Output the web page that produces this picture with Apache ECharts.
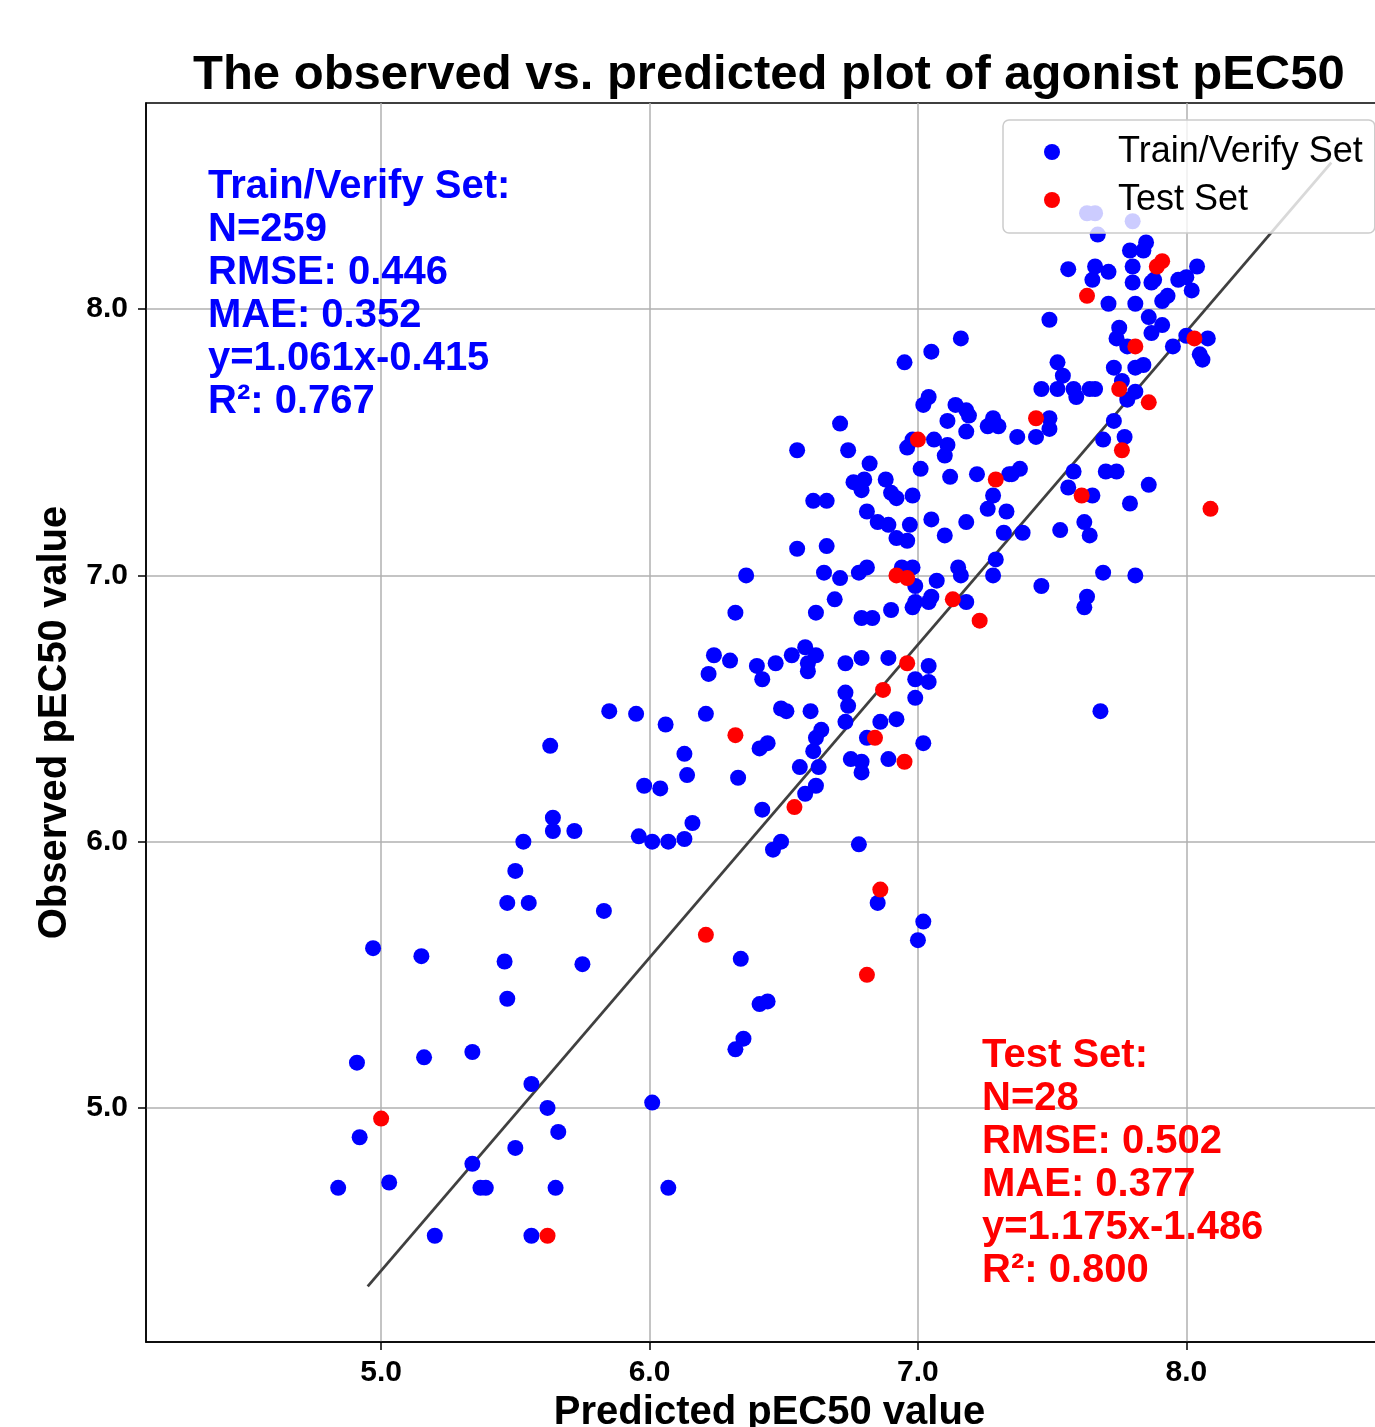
<!DOCTYPE html>
<html>
<head>
<meta charset="utf-8">
<script src="https://cdn.jsdelivr.net/npm/echarts@6/dist/echarts.min.js"></script>
<style>
html,body{margin:0;padding:0;background:#fff;}
#chart{width:1375px;height:1427px;}
</style>
</head>
<body>
<div id="chart"></div>
<script>
// ---- data (predicted, observed) ----
const trainSet = [
[5.47,5.77],[5.55,5.77],[5.83,5.74],[4.97,5.60],[5.15,5.57],[5.46,5.55],[5.75,5.54],[5.47,5.41],[4.91,5.17],[5.16,5.19],
[5.34,5.21],[5.56,5.09],[5.62,5.00],[4.92,4.89],[5.66,4.91],[5.50,4.85],[5.34,4.79],[4.84,4.70],[5.03,4.72],[5.37,4.70],
[5.39,4.70],[5.65,4.70],[5.20,4.52],[5.56,4.52],
[5.85,6.49],[5.95,6.48],[6.06,6.44],[6.21,6.48],[6.49,6.50],[6.51,6.49],[5.63,6.36],[6.44,6.37],[6.41,6.35],[6.13,6.33],
[6.14,6.25],[6.33,6.24],[6.56,6.28],[5.98,6.21],[6.04,6.20],[6.42,6.12],[5.64,6.09],[5.64,6.04],[5.72,6.04],[6.16,6.07],
[5.96,6.02],[6.01,6.00],[6.07,6.00],[6.13,6.01],[5.53,6.00],[6.49,6.00],[6.46,5.97],[5.50,5.89],
[6.78,5.99],[6.85,5.77],[7.02,5.70],[7.00,5.63],[6.34,5.56],[6.41,5.39],[6.44,5.40],[6.35,5.26],[6.32,5.22],[6.01,5.02],[6.07,4.70],
[6.36,7.00],[6.32,6.86],[6.24,6.70],[6.30,6.68],[6.22,6.63],[6.40,6.66],[6.42,6.61],[6.47,6.67],[6.53,6.70],
[6.55,7.10],[6.66,7.11],[6.65,7.01],[6.71,6.99],[6.78,7.01],[6.81,7.03],[6.94,7.03],[6.98,7.03],[6.99,6.96],[7.07,6.98],
[7.15,7.03],[7.16,7.00],[7.29,7.06],[7.28,7.00],[6.69,6.91],[6.62,6.86],[6.79,6.84],[6.83,6.84],[6.90,6.87],[6.98,6.88],
[6.99,6.90],[7.05,6.92],[7.04,6.90],[7.18,6.90],[6.58,6.73],[6.62,6.70],[6.59,6.67],[6.59,6.64],[6.73,6.67],[6.79,6.69],
[6.89,6.69],[7.04,6.66],[6.99,6.61],[7.04,6.60],[6.99,6.54],[6.73,6.56],[6.74,6.51],[6.60,6.49],[6.92,6.46],[6.86,6.45],
[6.73,6.45],[6.64,6.42],[6.62,6.39],[6.61,6.34],[6.81,6.39],[7.02,6.37],[6.75,6.31],[6.79,6.30],[6.79,6.26],[6.89,6.31],
[6.63,6.28],[6.62,6.21],[6.58,6.18],
[7.16,7.89],[7.05,7.84],[6.95,7.80],[7.04,7.67],[7.02,7.64],[7.14,7.64],[7.18,7.62],[7.19,7.60],[7.11,7.58],[7.18,7.54],
[7.28,7.59],[7.26,7.56],[7.30,7.56],[6.71,7.57],[6.96,7.48],[6.98,7.51],[7.06,7.51],[7.11,7.49],[7.10,7.45],[6.55,7.47],
[6.74,7.47],[6.82,7.42],[7.01,7.40],[7.12,7.37],[7.22,7.38],[7.34,7.38],[6.88,7.36],[6.76,7.35],[6.80,7.36],[6.79,7.32],
[6.90,7.31],[6.92,7.29],[6.98,7.30],[7.28,7.30],[6.61,7.28],[6.66,7.28],[6.81,7.24],[6.85,7.20],[6.89,7.19],[6.97,7.19],
[7.05,7.21],[7.18,7.20],[7.26,7.25],[7.33,7.24],[6.92,7.14],[6.96,7.13],[7.10,7.15],[7.32,7.16],
[7.63,8.36],[7.66,8.36],[7.80,8.33],[7.67,8.28],[7.85,8.25],[7.84,8.22],[7.79,8.22],[7.56,8.15],[7.66,8.16],[7.65,8.11],
[7.71,8.14],[7.80,8.16],[7.80,8.10],[7.88,8.11],[7.87,8.10],[7.97,8.11],[8.00,8.12],[8.02,8.07],[8.04,8.16],[7.93,8.05],
[7.91,8.03],[7.71,8.02],[7.81,8.02],[7.49,7.96],[7.86,7.97],[7.91,7.94],[7.87,7.91],[7.75,7.93],[7.74,7.89],[7.95,7.86],
[8.00,7.90],[8.08,7.89],[8.05,7.83],[8.06,7.81],[7.78,7.86],[7.52,7.80],[7.73,7.78],[7.76,7.73],[7.81,7.78],[7.84,7.79],
[7.54,7.75],[7.46,7.70],[7.52,7.70],[7.58,7.70],[7.59,7.67],[7.64,7.70],[7.66,7.70],[7.81,7.69],[7.78,7.66],[7.49,7.59],
[7.73,7.58],
[7.49,7.55],[7.37,7.52],[7.44,7.52],[7.69,7.51],[7.77,7.52],[7.35,7.38],[7.38,7.40],[7.58,7.39],[7.70,7.39],[7.74,7.39],
[7.56,7.33],[7.65,7.30],[7.86,7.34],[7.79,7.27],[7.62,7.20],[7.64,7.15],[7.53,7.17],[7.39,7.16],[7.69,7.01],[7.81,7.00],
[7.46,6.96],[7.63,6.92],[7.62,6.88],[7.68,6.49]
];
const testSet = [
[5.00,4.96],[5.62,4.52],[6.21,5.65],[6.81,5.50],[6.86,5.82],[6.32,6.40],[6.54,6.13],[6.84,6.39],[6.95,6.30],[6.87,6.57],
[6.96,6.67],[7.23,6.83],[7.13,6.91],[6.92,7.00],[6.96,6.99],[7.00,7.51],[7.29,7.36],[7.44,7.59],[7.61,7.30],[7.76,7.47],
[7.75,7.70],[7.86,7.65],[7.81,7.86],[8.03,7.89],[8.09,7.25],[7.63,8.05],[7.91,8.18],[7.89,8.16]
];
// fitted line endpoints (test-set regression y=1.175x-1.486)
const fitLine = [[4.95,4.33],[8.54,8.55]];
const xTicks = [5,6,7,8];
const yTicks = [5,6,7,8];
const titleText = 'The observed vs. predicted plot of agonist pEC50';
const trainText = ['Train/Verify Set:','N=259','RMSE: 0.446','MAE: 0.352','y=1.061x-0.415','R²: 0.767'];
const testText = ['Test Set:','N=28','RMSE: 0.502','MAE: 0.377','y=1.175x-1.486','R²: 0.800'];

const FF = '"Liberation Sans", Arial, Helvetica, sans-serif';
const chart = echarts.init(document.getElementById('chart'), null, {renderer:'canvas'});

function axisCommon(ticks, margin){
  return {
    type:'value',
    axisLine:{show:true, onZero:false, lineStyle:{color:'#000', width:1.5}},
    axisTick:{show:true, inside:false, length:8, lineStyle:{color:'#000', width:1.5}, customValues:ticks},
    axisLabel:{show:true, color:'#000', fontFamily:FF, fontWeight:'bold', fontSize:30, customValues:ticks,
      margin:margin, formatter:v=>Number(v).toFixed(1)},
    splitLine:{show:true, lineStyle:{color:'#b0b0b0', width:1.5}}
  };
}

const option = {
  backgroundColor:'#ffffff',
  animation:false,
  grid:{left:146, right:-18, top:103, bottom:85, show:true, borderColor:'#000', borderWidth:1.5,
        backgroundColor:'transparent', containLabel:false, outerBoundsMode:'none'},
  xAxis:Object.assign(axisCommon(xTicks, 16), {
    min:4.124, max:8.77,
    name:'Predicted pEC50 value', nameLocation:'middle', nameGap:50,
    nameTextStyle:{fontFamily:FF, fontWeight:'bold', fontSize:40, color:'#000'}
  }),
  yAxis:Object.assign(axisCommon(yTicks, 18), {
    min:4.121, max:8.774,
    name:'Observed pEC50 value', nameLocation:'middle', nameGap:69, nameRotate:90,
    nameTextStyle:{fontFamily:FF, fontWeight:'bold', fontSize:40, color:'#000'}
  }),
  legend:{
    orient:'vertical', left:1003, top:120,
    padding:[14,12,15,41],
    itemWidth:16, itemHeight:16, itemGap:12,
    backgroundColor:'rgba(255,255,255,0.8)', borderColor:'#cccccc', borderWidth:1.5, borderRadius:6,
    textStyle:{fontFamily:FF, fontSize:36, color:'#000', lineHeight:36, padding:[0,0,0,53]},
    data:[{name:'Train/Verify Set', icon:'circle'},{name:'Test Set', icon:'circle'}]
  },
  graphic:[
    {type:'text', left:193, top:50.5, z:10, style:{text:titleText, font:'bold 49px '+FF, fill:'#000', lineHeight:49}},
    {type:'text', left:208, top:165.5, z:10, style:{text:trainText.join('\n'), font:'bold 40px '+FF, fill:'#0000ff', lineHeight:43}},
    {type:'text', left:982, top:1034.5, z:10, style:{text:testText.join('\n'), font:'bold 40px '+FF, fill:'#ff0000', lineHeight:43}}
  ],
  series:[
    {type:'line', data:fitLine, showSymbol:false, symbol:'none', z:1,
     lineStyle:{color:'#404040', width:2.8}, silent:true},
    {name:'Train/Verify Set', type:'scatter', data:trainSet, symbol:'circle', symbolSize:16, z:2,
     itemStyle:{color:'#0000ff', opacity:1}},
    {name:'Test Set', type:'scatter', data:testSet, symbol:'circle', symbolSize:16, z:3,
     itemStyle:{color:'#ff0000', opacity:1}}
  ]
};
chart.setOption(option);
</script>
</body>
</html>
